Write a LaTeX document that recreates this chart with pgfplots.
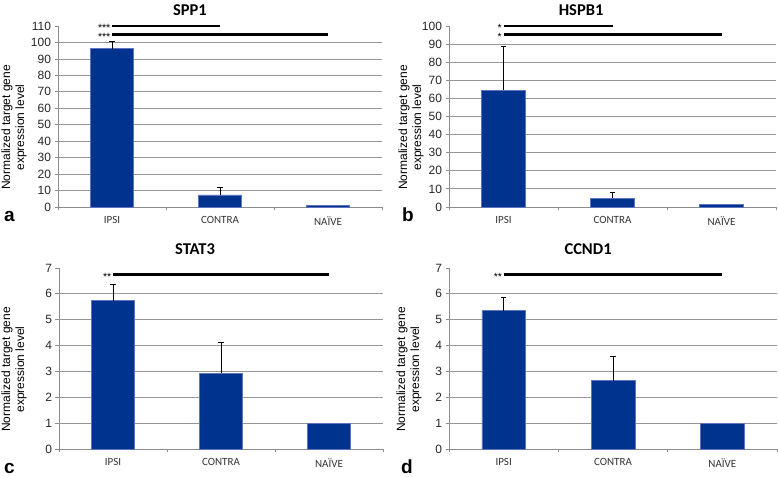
\documentclass[border=0pt]{standalone}
\usepackage{fontspec}
\setmainfont{Liberation Sans}
\newfontfamily\carlito{Carlito}
\usepackage{pgfplots}
\pgfplotsset{compat=1.18}
\usepackage{pgfplotstable}

\definecolor{barblue}{RGB}{0,51,141}
\definecolor{baredge}{RGB}{95,115,190}
\definecolor{gridgray}{RGB}{150,150,150}
\definecolor{axgray}{RGB}{140,140,140}

\tikzset{
  stars/.style={anchor=base east, font=\fontsize{10.5}{10.5}\selectfont, inner sep=0pt, xshift=-1.5pt, yshift=-5.8pt},
  letter/.style={anchor=base west, inner sep=0pt, font=\bfseries\fontsize{19}{20}\selectfont},
}

\pgfplotsset{
  every axis title shift=0pt,
  panel/.style={
    scale only axis,
    anchor=south west,
    clip=false,
    xmin=-0.5, xmax=2.5,
    ymin=0,
    axis x line*=bottom,
    axis y line*=left,
    axis line style={axgray, line width=0.8pt},
    tick align=outside,
    tick pos=left,
    major tick length=3.5pt,
    tick style={axgray, line width=0.8pt},
    xtick={-0.5,0.5,1.5,2.5},
    xticklabels={},
    extra x ticks={0,1,2},
    extra x tick labels={IPSI,CONTRA,NA\"IVE},
    extra x tick style={major tick length=0pt},
    xticklabel style={font=\carlito\fontsize{11}{12}\selectfont, text=black!80, yshift=-6pt},
    yticklabel style={font=\fontsize{12}{13}\selectfont, text=black!85},
    /pgf/number format/assume math mode=true,
    extra y tick style={grid=major, major tick length=0pt},
    extra y tick labels={},
    major grid style={gridgray, line width=0.8pt},
    ylabel={Normalized target gene\\expression level},
    ylabel style={align=center, anchor=center, font=\fontsize{12}{14}\selectfont},
    title style={anchor=base, yshift=0pt, font=\carlito\bfseries\fontsize{16.5}{18}\selectfont},
  },
  bars/.style={ybar, bar width=0.4, fill=barblue, draw=baredge, line width=0.6pt},
  % upper error bar: from the bar top to mean + SD, with a cap at the end
  errline/.style={black, line width=0.8pt, mark=-, mark size=2.6pt, mark indices={2},
    mark options={solid, line width=0.8pt}, forget plot},
  sig/.style={black, line width=2.6pt, mark=none},
}

% mean expression (x: 0 IPSI, 1 CONTRA, 2 NAIVE)
\pgfplotstableread{
x y
0 96.3
1 7.3
2 1.0
}\spp
\pgfplotstableread{
x y
0 64.5
1 4.8
2 1.5
}\hspb
\pgfplotstableread{
x y
0 5.74
1 2.93
2 1.0
}\stat
\pgfplotstableread{
x y
0 5.35
1 2.64
2 1.0
}\ccnd

\begin{document}
\begin{tikzpicture}
\useasboundingbox (0,0) rectangle (778pt,476pt);

% a: SPP1
\begin{axis}[panel, at={(58pt,269pt)}, width=324pt, height=181pt,
  ymax=110, ytick={0,10,...,110}, extra y ticks={10,20,...,100},
  title={SPP1}, title style={at={(axis description cs:0.407,1.06)}},
  ylabel style={at={(axis description cs:-0.136,0.44)}}]
\addplot[bars] table[x=x,y=y]{\spp};
\addplot[errline] coordinates {(0,96.3) (0,100.5)};
\addplot[errline] coordinates {(1,7.3) (1,11.7)};
\addplot[sig] coordinates {(0,110) (1,110)};
\addplot[sig] coordinates {(0,105) (2,105)};
\node[stars] at (axis cs:0,110) {***};
\node[stars] at (axis cs:0,105) {***};
\end{axis}

% b: HSPB1
\begin{axis}[panel, at={(449pt,269pt)}, width=327pt, height=181pt,
  ymax=100, ytick={0,10,...,100}, extra y ticks={10,20,...,90},
  title={HSPB1}, title style={at={(axis description cs:0.404,1.06)}},
  ylabel style={at={(axis description cs:-0.116,0.44)}}]
\addplot[bars] table[x=x,y=y]{\hspb};
\addplot[errline] coordinates {(0,64.5) (0,88.6)};
\addplot[errline] coordinates {(1,4.8) (1,8.1)};
\addplot[sig] coordinates {(0,100) (1,100)};
\addplot[sig] coordinates {(0,95.4) (2,95.4)};
\node[stars] at (axis cs:0,100) {*};
\node[stars] at (axis cs:0,95.4) {*};
\end{axis}

% c: STAT3
\begin{axis}[panel, at={(59pt,27pt)}, width=324pt, height=181pt,
  ymax=7, ytick={0,1,...,7}, extra y ticks={1,2,...,6},
  title={STAT3}, title style={at={(axis description cs:0.42,1.072)}},
  ylabel style={at={(axis description cs:-0.139,0.44)}}]
\addplot[bars] table[x=x,y=y]{\stat};
\addplot[errline] coordinates {(0,5.74) (0,6.37)};
\addplot[errline] coordinates {(1,2.93) (1,4.12)};
\addplot[sig] coordinates {(0,6.76) (2,6.76)};
\node[stars] at (axis cs:0,6.76) {**};
\end{axis}

% d: CCND1
\begin{axis}[panel, at={(449pt,27pt)}, width=328pt, height=181pt,
  ymax=7, ytick={0,1,...,7}, extra y ticks={1,2,...,6},
  title={CCND1}, title style={at={(axis description cs:0.424,1.072)}},
  ylabel style={at={(axis description cs:-0.122,0.44)}}]
\addplot[bars] table[x=x,y=y]{\ccnd};
\addplot[errline] coordinates {(0,5.35) (0,5.88)};
\addplot[errline] coordinates {(1,2.64) (1,3.57)};
\addplot[sig] coordinates {(0,6.76) (2,6.76)};
\node[stars] at (axis cs:0,6.76) {**};
\end{axis}

\node[letter] at (4pt,254pt) {a};
\node[letter] at (402pt,254pt) {b};
\node[letter] at (4pt,3pt) {c};
\node[letter] at (401pt,3pt) {d};
\end{tikzpicture}
\end{document}
